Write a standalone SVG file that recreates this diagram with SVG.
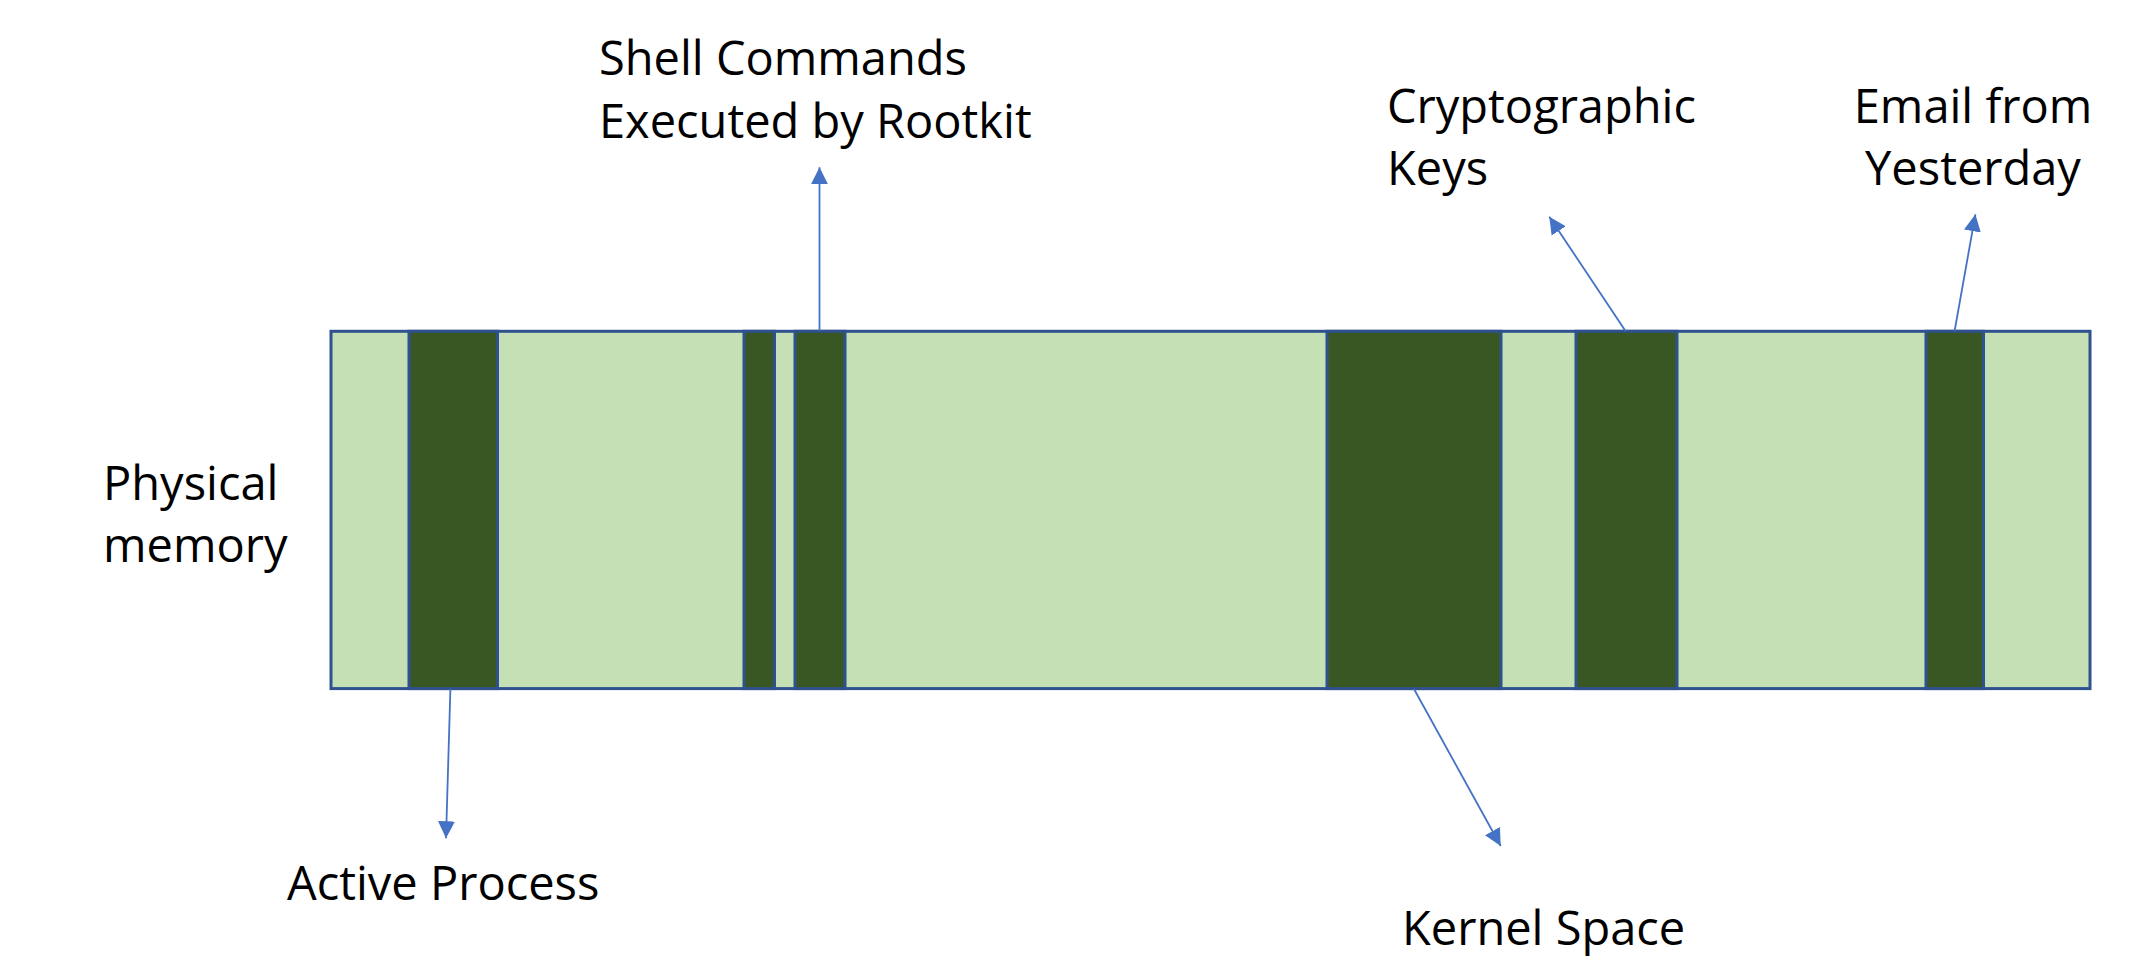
<svg xmlns="http://www.w3.org/2000/svg" width="2155" height="980" viewBox="0 0 2155 980">
<style>
.lbl{font-family:"Open Sans","Noto Sans","Liberation Sans",sans-serif;font-size:47px;fill:#000}
.mem{fill:#C5E0B4;stroke:#2F528F;stroke-width:3}
.blk{fill:#385723;stroke:#2F528F;stroke-width:3}
.con{stroke:#4472C4;stroke-width:1.8;fill:none;marker-end:url(#ah)}
</style>
<defs>
<marker id="ah" markerUnits="userSpaceOnUse" markerWidth="18" markerHeight="18" viewBox="0 0 18 18" refX="17" refY="9" orient="auto">
<path d="M0,0.5 L17,9 L0,17.5 z" fill="#4472C4"/>
</marker>
</defs>
<rect width="2155" height="980" fill="#fff"/>
<g id="memory">
<rect class="mem" x="331" y="331.3" width="1759" height="357.3"/>
</g>
<g id="active-process-block"><rect class="blk" x="409" y="331.3" width="88.5" height="357.3"/></g>
<g id="block-2"><rect class="blk" x="744" y="331.3" width="30.5" height="357.3"/></g>
<g id="shell-block"><rect class="blk" x="795" y="331.3" width="50" height="357.3"/></g>
<g id="kernel-block"><rect class="blk" x="1327" y="331.3" width="174" height="357.3"/></g>
<g id="crypto-block"><rect class="blk" x="1576" y="331.3" width="101" height="357.3"/></g>
<g id="email-block"><rect class="blk" x="1926" y="331.3" width="57.5" height="357.3"/></g>
<g id="connectors">
<line class="con" x1="450.4" y1="689" x2="446" y2="838.3"/>
<line class="con" x1="819.5" y1="331" x2="819.5" y2="167.3"/>
<line class="con" x1="1625.5" y1="331" x2="1549.3" y2="216.7"/>
<line class="con" x1="1954.6" y1="331" x2="1975.4" y2="214.3"/>
<line class="con" x1="1414" y1="689" x2="1500.7" y2="846"/>
</g>
<g id="label-physical">
<text class="lbl" x="103" y="500">Physical</text>
<text class="lbl" x="103" y="562">memory</text>
</g>
<g id="label-shell">
<text class="lbl" x="599" y="75">Shell Commands</text>
<text class="lbl" x="599" y="138">Executed by Rootkit</text>
</g>
<g id="label-crypto">
<text class="lbl" x="1387" y="123">Cryptographic</text>
<text class="lbl" x="1387" y="185">Keys</text>
</g>
<g id="label-email">
<text class="lbl" x="1973" y="123" text-anchor="middle">Email from</text>
<text class="lbl" x="1973" y="185" text-anchor="middle">Yesterday</text>
</g>
<g id="label-active">
<text class="lbl" x="287" y="900">Active Process</text>
</g>
<g id="label-kernel">
<text class="lbl" x="1402" y="945">Kernel Space</text>
</g>
</svg>
